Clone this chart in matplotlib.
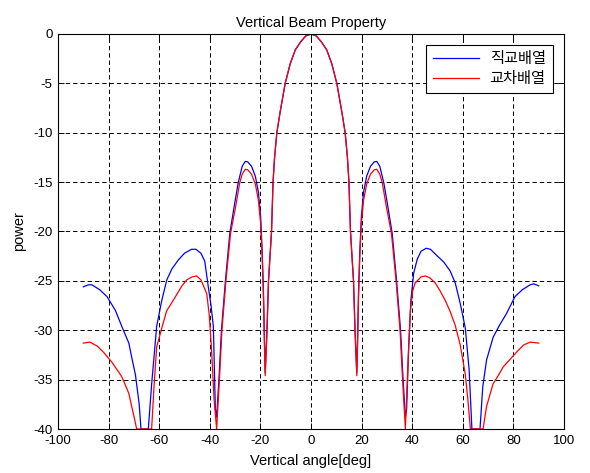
import matplotlib
matplotlib.use('Agg')
import matplotlib.pyplot as plt

plt.rcParams['font.family'] = ['Liberation Sans', 'Noto Sans CJK KR']
plt.rcParams['axes.unicode_minus'] = False

# Beam pattern of the orthogonal array (blue)
ang_ortho = [-90, -88, -86.6, -83.5, -80.6, -77.3, -74.8, -72.0, -70.9, -69.4,
             -67.9, -67.2, -64.3, -63.0, -61.0, -59.0, -57.0, -55.0, -52.5, -50.0,
             -47.2, -45.5, -43.5, -42.0, -40.6, -39.5, -38.6, -37.8, -37.3, -36.4,
             -35.4, -33.8, -32.1, -30.2, -28.8, -27.2, -26.0, -25.0, -23.5, -22.0,
             -20.8, -19.9, -19.3, -18.8, -18.4, -18.1, -17.4, -16.8, -16.2, -15.6,
             -15.0, -14.4, -13.5, -12.2, -10.2, -8.2, -6.2, -4.1, -2.1, 0,
             2.1, 4.1, 6.2, 8.2, 10.2, 12.2, 13.5, 14.4, 15.0, 15.6,
             16.2, 16.8, 17.4, 18.1, 18.4, 18.8, 19.3, 19.9, 20.8, 22.0,
             23.5, 25.0, 26.0, 27.2, 28.8, 30.2, 32.1, 33.8, 35.4, 36.4,
             37.3, 37.8, 38.6, 39.5, 40.6, 42.0, 43.5, 45.5, 47.2, 50.0,
             52.5, 55.0, 57.0, 59.0, 61.0, 62.5, 63.6, 66.8, 67.9, 69.4,
             72.0, 74.5, 77.3, 80.6, 83.5, 86.6, 88.0, 90]
pow_ortho = [-25.6, -25.4, -25.4, -25.9, -26.6, -28.0, -29.6, -31.3, -32.7, -34.5,
             -37.5, -40.0, -40.0, -35.5, -29.6, -27.0, -24.9, -23.8, -22.9, -22.2,
             -21.8, -21.8, -22.2, -23.0, -25.6, -27.5, -29.6, -38.0, -38.8, -35.0,
             -30.0, -24.9, -20.2, -17.2, -15.1, -13.4, -12.9, -12.95, -13.4, -14.4,
             -16.0, -18.5, -22.0, -26.0, -31.0, -34.3, -30.0, -25.0, -22.5, -20.0,
             -15.0, -12.5, -10.0, -7.9, -5.0, -3.0, -1.6, -0.8, -0.2, 0.0,
             -0.2, -0.8, -1.6, -3.0, -5.0, -7.9, -10.0, -12.5, -15.0, -20.0,
             -22.5, -25.0, -30.0, -34.3, -31.0, -26.0, -22.0, -18.5, -16.0, -14.4,
             -13.4, -12.95, -12.9, -13.4, -15.1, -17.2, -20.2, -24.9, -30.0, -35.0,
             -38.8, -38.0, -31.7, -26.9, -24.2, -22.8, -22.0, -21.7, -21.8, -22.5,
             -23.1, -24.0, -25.2, -27.3, -29.8, -34.0, -40.0, -40.0, -35.7, -33.0,
             -30.7, -29.5, -28.3, -26.6, -25.9, -25.4, -25.3, -25.5]

# Beam pattern of the crossed array (red)
ang_cross = [-90, -87.4, -84.5, -82.1, -78.5, -74.8, -72.0, -70.9, -69.9, -68.9,
             -63.0, -62.0, -61.0, -59.0, -57.0, -55.0, -53.1, -51.0, -49.1, -47.0,
             -45.2, -43.5, -41.2, -40.2, -39.3, -38.3, -37.3, -36.2, -35.2, -33.6,
             -31.8, -29.8, -28.2, -27.2, -26.0, -25.0, -23.5, -22.0, -20.8, -19.9,
             -19.3, -18.8, -18.4, -18.1, -17.4, -16.8, -16.2, -15.6, -15.0, -14.4,
             -13.5, -12.2, -10.2, -8.2, -6.2, -4.1, -2.1, 0,
             2.1, 4.1, 6.2, 8.2, 10.2, 12.2, 13.5, 14.4, 15.0, 15.6,
             16.2, 16.8, 17.4, 18.1, 18.4, 18.8, 19.3, 19.9, 20.8, 22.0,
             23.5, 25.0, 26.0, 27.2, 28.2, 29.8, 31.8, 33.6, 35.2, 36.2,
             37.3, 38.3, 39.3, 40.2, 41.2, 43.5, 45.2, 47.0, 49.1, 51.0,
             53.1, 55.0, 57.0, 59.0, 61.0, 62.0, 63.0, 68.0, 69.4, 72.0,
             74.0, 76.0, 78.5, 81.3, 84.0, 86.6, 90]
pow_cross = [-31.3, -31.2, -31.6, -32.2, -33.3, -34.7, -36.4, -37.7, -38.8, -40.0,
             -40.0, -35.5, -31.7, -29.8, -28.0, -27.2, -26.4, -25.5, -24.9, -24.6,
             -24.5, -24.9, -26.3, -28.5, -32.0, -37.0, -40.0, -35.0, -30.0, -24.9,
             -20.2, -17.5, -15.1, -14.2, -13.7, -13.75, -14.2, -15.2, -16.8, -19.2,
             -22.5, -26.5, -31.5, -34.6, -30.0, -25.0, -22.5, -20.0, -15.0, -12.5,
             -10.0, -7.9, -5.0, -3.0, -1.6, -0.8, -0.2, 0.0,
             -0.2, -0.8, -1.6, -3.0, -5.0, -7.9, -10.0, -12.5, -15.0, -20.0,
             -22.5, -25.0, -30.0, -34.6, -31.5, -26.5, -22.5, -19.2, -16.8, -15.2,
             -14.2, -13.75, -13.7, -14.2, -15.1, -17.5, -20.2, -24.9, -30.0, -35.0,
             -40.0, -33.5, -28.0, -26.0, -25.2, -24.6, -24.5, -24.7, -25.2, -26.0,
             -27.0, -28.1, -29.5, -31.5, -34.5, -37.0, -40.0, -40.0, -37.7, -35.4,
             -34.6, -33.7, -33.0, -32.2, -31.5, -31.2, -31.3]

x_ticks = [-100, -80, -60, -40, -20, 0, 20, 40, 60, 80, 100]
y_ticks = [-40, -35, -30, -25, -20, -15, -10, -5, 0]
labels = ['직교배열', '교차배열']

fig = plt.figure(figsize=(5.9, 4.73), dpi=100)
ax = fig.add_axes([58 / 590, 1 - 429 / 473, 506 / 590, 395 / 473])

ax.plot(ang_ortho, pow_ortho, color='#0000ff', linewidth=0.9, label=labels[0])
ax.plot(ang_cross, pow_cross, color='#ff0000', linewidth=0.9, label=labels[1])

ax.set_xlim(-100, 100)
ax.set_ylim(-40, 0)
ax.set_xticks(x_ticks)
ax.set_yticks(y_ticks)
ax.tick_params(direction='in', top=True, right=True, length=4, width=0.7,
               labelsize=9.5, colors='k', pad=4)
for sp in ax.spines.values():
    sp.set_color('k')
    sp.set_linewidth(0.8)

ax.grid(True, color='k', linestyle=(0, (4.5, 3)), linewidth=0.7)

ax.set_title('Vertical Beam Property', fontsize=10.5, pad=5)
ax.set_xlabel('Vertical angle[deg]', fontsize=10.5, labelpad=5)
ax.set_ylabel('power', fontsize=10.5, labelpad=5)

leg = ax.legend(loc='upper right', fontsize=11, fancybox=False, framealpha=1,
                edgecolor='k', handlelength=3.0, borderaxespad=0.75,
                borderpad=0.45, labelspacing=0.4, handletextpad=0.7)
leg.get_frame().set_linewidth(0.8)

fig.savefig('out.png', dpi=100)
